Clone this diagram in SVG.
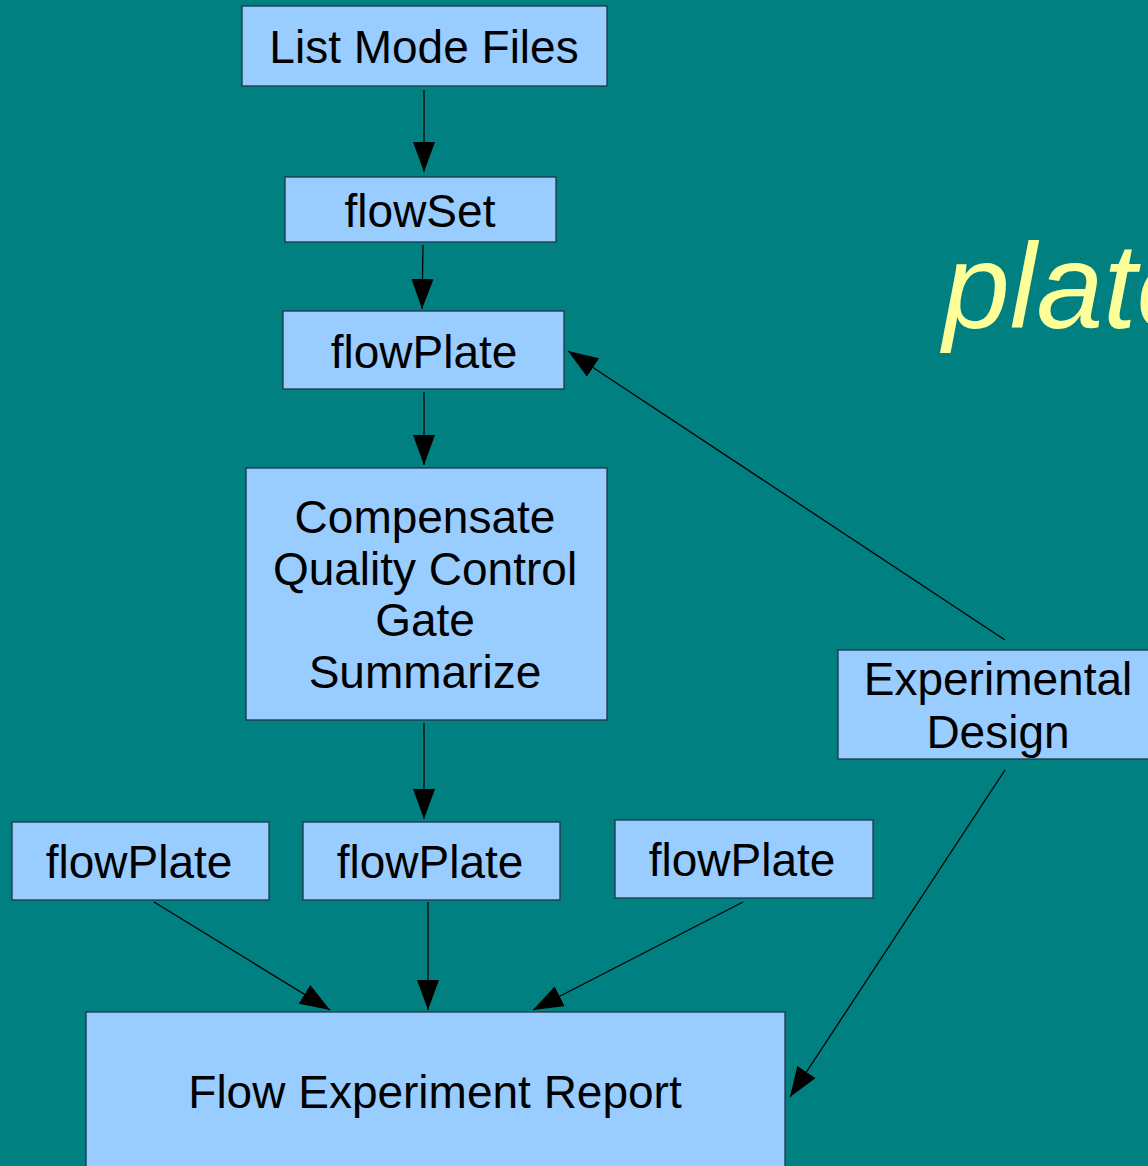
<svg xmlns="http://www.w3.org/2000/svg" width="1148" height="1166" viewBox="0 0 1148 1166">
<style>
.box{fill:#99CCFF;stroke:#1c3646;stroke-width:1.3}
.t{font-family:"Liberation Sans",Arial,sans-serif;font-size:46px;fill:#000;text-anchor:middle}
.c{stroke:#000;stroke-width:1.3;fill:none;marker-end:url(#ah)}
</style>
<defs>
<marker id="ah" viewBox="0 0 30 22" refX="30" refY="11" markerWidth="30" markerHeight="22" markerUnits="userSpaceOnUse" orient="auto">
<path d="M0,0 L30,11 L0,22 z" fill="#000"/>
</marker>
</defs>
<rect x="0" y="0" width="1148" height="1166" fill="#008080"/>
<text x="943" y="328" font-family="'Liberation Sans',Arial,sans-serif" font-size="120" font-style="italic" fill="#FFFF99">plate</text>
<g id="connectors">
<line class="c" x1="424" y1="90" x2="424" y2="172"/>
<line class="c" x1="423" y1="245" x2="422" y2="309"/>
<line class="c" x1="424" y1="392" x2="424" y2="465"/>
<line class="c" x1="424" y1="723" x2="424" y2="819"/>
<line class="c" x1="1005" y1="640" x2="568" y2="351"/>
<line class="c" x1="154" y1="902" x2="330" y2="1010"/>
<line class="c" x1="428" y1="902" x2="428" y2="1010"/>
<line class="c" x1="743" y1="902" x2="533" y2="1010"/>
<line class="c" x1="1005" y1="770" x2="790" y2="1097"/>
</g>
<g id="listmode"><rect class="box" x="242" y="6" width="365" height="80"/><text class="t" x="424" y="63">List Mode Files</text></g>
<g id="flowset"><rect class="box" x="285" y="177" width="271" height="65"/><text class="t" x="420" y="227">flowSet</text></g>
<g id="flowplate-top"><rect class="box" x="283" y="311" width="281" height="78"/><text class="t" x="424" y="368">flowPlate</text></g>
<g id="process"><rect class="box" x="246" y="468" width="361" height="252"/>
<text class="t" x="425" y="533">Compensate</text>
<text class="t" x="425" y="585">Quality Control</text>
<text class="t" x="425" y="636">Gate</text>
<text class="t" x="425" y="688">Summarize</text></g>
<g id="expdesign"><rect class="box" x="838" y="650" width="320" height="109"/>
<text class="t" x="998" y="695">Experimental</text>
<text class="t" x="998" y="748">Design</text></g>
<g id="flowplate-left"><rect class="box" x="12" y="822" width="257" height="78"/><text class="t" x="139" y="878">flowPlate</text></g>
<g id="flowplate-mid"><rect class="box" x="303" y="822" width="257" height="78"/><text class="t" x="430" y="878">flowPlate</text></g>
<g id="flowplate-right"><rect class="box" x="615" y="820" width="258" height="78"/><text class="t" x="742" y="876">flowPlate</text></g>
<g id="report"><rect class="box" x="86" y="1012" width="699" height="170"/><text class="t" x="435" y="1108">Flow Experiment Report</text></g>
</svg>
